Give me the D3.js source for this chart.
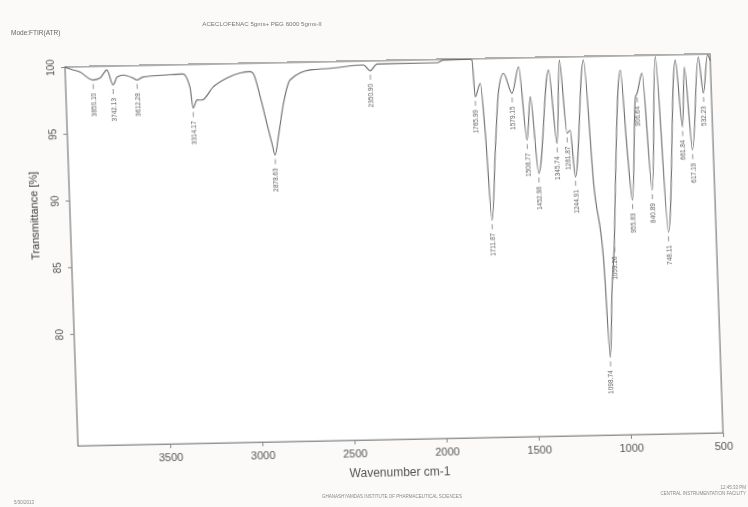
<!DOCTYPE html>
<html>
<head>
<meta charset="utf-8">
<script src="https://cdn.jsdelivr.net/npm/d3@7.9.0/dist/d3.min.js"></script>
<style>
  html, body { margin: 0; padding: 0; background: #fcfaf8; }
  svg { display: block; font-family: "Liberation Sans", Arial, sans-serif; }
</style>
</head>
<body>
<svg id="chart" width="748" height="507"></svg>
<script>
// spectrum (wavenumber cm-1, transmittance %)
const wavenumber = [4000, 3989, 3920, 3850, 3812, 3773, 3743, 3719, 3687, 3633, 3612, 3579,
  3448, 3361, 3326, 3313, 3290, 3263, 3201, 3123, 3051, 2997, 2981, 2947, 2916, 2892, 2877,
  2856, 2822, 2782, 2671, 2562, 2381, 2346, 2308, 1983, 1946, 1801, 1792, 1781, 1751, 1733,
  1713, 1682, 1653, 1623, 1581, 1540, 1508, 1482, 1451, 1378, 1346, 1318, 1290, 1272, 1253,
  1187, 1155, 1115, 1097, 1075, 1054, 1037, 989, 967, 948, 912, 903, 872, 839, 797, 759,
  689, 663, 641, 613, 564, 543, 514, 500];
const transmittance = [100, 99.92, 99.6, 98.98, 99.12, 99.71, 98.58, 99.17, 99.31, 99.07, 98.92, 99.13,
  99.25, 99.3, 98.31, 96.73, 97.33, 97.32, 98.27, 98.93, 99.29, 99.37, 99.24, 97.48, 95.48, 93.97, 93.08,
  94.45, 96.95, 98.69, 99.41, 99.5, 99.7, 99.26, 99.75, 99.76, 99.95, 99.96, 99.91, 97.15, 98.15, 94.4,
  87.88, 93.13, 97.6, 98.86, 97.35, 99.33, 93.83, 97.07, 91.31, 99.04, 93.53, 99.77, 94.27, 94.5, 91.0,
  99.74, 90.48, 84.72, 77.43, 82.5, 85.97, 90.45, 98.93, 92.93, 89.17, 96.9, 97.16, 98.66, 89.89, 99.88, 86.71,
  99.6, 94.57, 99.06, 92.83, 99.79, 97.08, 99.92, 99.5];

// labelled peaks
const peakWn = [3850, 3743, 3612, 3313, 2877, 2346, 1781, 1713, 1581, 1508, 1451, 1346,
  1290, 1253, 1097, 1054, 948, 903, 839, 759, 663, 613, 543];
const peakT = [98.98, 98.58, 98.92, 96.73, 93.08, 99.26, 97.15, 87.88, 97.35, 93.83, 91.31, 93.53,
  94.27, 91.0, 77.43, 85.97, 89.17, 97.16, 89.89, 86.71, 94.57, 92.83, 97.08];
const peakText = ['3850.10', '3742.13', '3612.28', '3314.17', '2878.63', '2350.90', '1765.99',
  '1711.87', '1579.15', '1508.77', '1452.98', '1345.74', '1281.87', '1244.91', '1098.74',
  '1059.26', '955.83', '906.64', '840.89', '748.11', '661.84', '617.19', '532.23'];

const xTicks = [3500, 3000, 2500, 2000, 1500, 1000, 500];
const yTicks = [100, 95, 90, 85, 80];

const W = 645;
const H = 379;
const ink = '#6a6a6a';

const svg = d3.select('#chart');

// soften everything a little, the reference is a scanned printout
svg.append('defs').append('filter')
  .attr('id', 'scan')
  .append('feGaussianBlur')
  .attr('stdDeviation', 0.35);

const page = svg.append('g').attr('filter', 'url(#scan)');

page.append('text')
  .attr('x', 11).attr('y', 35)
  .attr('font-size', 6.5).attr('fill', '#666')
  .text('Mode:FTIR(ATR)');

page.append('text')
  .attr('x', 262).attr('y', 26)
  .attr('text-anchor', 'middle')
  .attr('font-size', 6.2).attr('fill', '#777')
  .text('ACECLOFENAC 5gms+ PEG 6000 5gms-II');

// the scanned sheet is slightly skewed, so the plot sits in a sheared frame
const plot = page.append('g')
  .attr('transform', 'matrix(1,-0.0202,0.0343,1,65,67)');

const x = d3.scaleLinear().domain([4000, 500]).range([0, W]);
const y = d3.scaleLinear().domain([71.6, 100]).range([H, 0]);

plot.append('rect')
  .attr('width', W).attr('height', H)
  .attr('fill', '#ffffff')
  .attr('stroke', '#7c7c7c').attr('stroke-width', 1.2);

const xAxis = plot.append('g')
  .attr('transform', `translate(0,${H})`)
  .call(d3.axisBottom(x).tickValues(xTicks).tickSize(4).tickPadding(5).tickFormat(d3.format('d')));
xAxis.select('.domain').remove();
xAxis.selectAll('line').attr('stroke', '#888');
xAxis.selectAll('text').attr('font-size', 11).attr('fill', '#555')
  .attr('font-family', '"Liberation Sans", Arial, sans-serif');

const yAxis = plot.append('g')
  .call(d3.axisLeft(y).tickValues(yTicks).tickSize(4).tickFormat(d3.format('d')));
yAxis.select('.domain').remove();
yAxis.selectAll('line').attr('stroke', '#888');
yAxis.selectAll('text')
  .attr('x', null)
  .attr('text-anchor', 'middle')
  .attr('transform', 'translate(-15,0) rotate(-90)')
  .attr('dy', '0.35em')
  .attr('font-size', 10).attr('fill', '#555')
  .attr('font-family', '"Liberation Sans", Arial, sans-serif');

plot.append('text')
  .attr('transform', 'translate(-32,148) rotate(-90)')
  .attr('text-anchor', 'middle')
  .attr('font-size', 11).attr('fill', '#3c3c3c')
  .text('Transmittance [%]');

plot.append('text')
  .attr('x', 321).attr('y', 416)
  .attr('text-anchor', 'middle')
  .attr('font-size', 12).attr('fill', '#555')
  .text('Wavenumber cm-1');

const points = wavenumber.map((wn, i) => [wn, transmittance[i]]);
const line = d3.line()
  .x((d) => x(d[0]))
  .y((d) => y(d[1]))
  .curve(d3.curveMonotoneX);

plot.append('path')
  .datum(points)
  .attr('d', line)
  .attr('fill', 'none')
  .attr('stroke', ink)
  .attr('stroke-width', 1.1);

const peaks = plot.append('g');
peakWn.forEach((wn, i) => {
  const px = x(wn);
  const py = y(peakT[i]);
  peaks.append('line')
    .attr('x1', px).attr('x2', px)
    .attr('y1', py + 4).attr('y2', py + 9)
    .attr('stroke', '#777').attr('stroke-width', 0.8);
  peaks.append('text')
    .attr('transform', `translate(${px},${py + 13}) rotate(-90)`)
    .attr('text-anchor', 'end')
    .attr('dy', '0.35em')
    .attr('font-size', 6.5).attr('fill', '#5e5e5e')
    .text(peakText[i]);
});

page.append('text')
  .attr('x', 14).attr('y', 504)
  .attr('font-size', 4.5).attr('fill', '#888')
  .text('5/30/2013');

page.append('text')
  .attr('x', 392).attr('y', 498)
  .attr('text-anchor', 'middle')
  .attr('font-size', 4.5).attr('fill', '#888')
  .text('GHANASHYAMDAS INSTITUTE OF PHARMACEUTICAL SCIENCES');

page.append('text')
  .attr('x', 746).attr('y', 489)
  .attr('text-anchor', 'end')
  .attr('font-size', 4.5).attr('fill', '#888')
  .text('12:45:33 PM');

page.append('text')
  .attr('x', 746).attr('y', 495)
  .attr('text-anchor', 'end')
  .attr('font-size', 4.5).attr('fill', '#888')
  .text('CENTRAL INSTRUMENTATION FACILITY');
</script>
</body>
</html>
